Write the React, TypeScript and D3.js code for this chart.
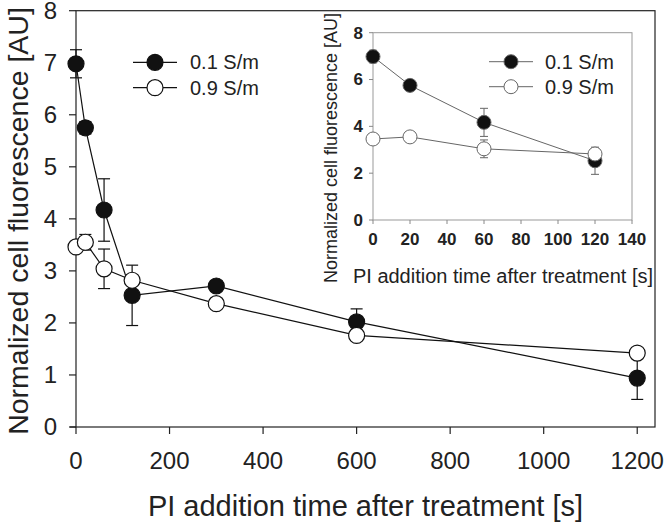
import React from "react";
import * as d3 from "d3";

const times = [0, 20, 60, 120, 300, 600, 1200];
const lowCond = [6.98, 5.75, 4.17, 2.53, 2.71, 2.02, 0.94];
const lowErr = [0.27, 0.12, 0.6, 0.58, 0.08, 0.25, 0.41];
const highCond = [3.46, 3.55, 3.04, 2.82, 2.37, 1.76, 1.42];
const highErr = [0.08, 0.15, 0.38, 0.1, 0.08, 0.06, 0.05];
const seriesNames = ["0.1 S/m", "0.9 S/m"];
const xTicksMain = [0, 200, 400, 600, 800, 1000, 1200];
const yTicksMain = [0, 1, 2, 3, 4, 5, 6, 7, 8];
const xTicksInset = [0, 20, 40, 60, 80, 100, 120, 140];
const yTicksInset = [0, 2, 4, 6, 8];
const insetMaxTime = 120;

const FONT = "'Liberation Sans', Arial, sans-serif";

type Pt = { t: number; v: number; e: number };

function makeSeries(vals: number[], errs: number[], maxT = Infinity): Pt[] {
  return times
    .map((t, i) => ({ t, v: vals[i], e: errs[i] }))
    .filter((p) => p.t <= maxT);
}

function Series({
  pts, x, y, filled, r, stroke, cap, lw,
}: {
  pts: Pt[]; x: d3.ScaleLinear<number, number>; y: d3.ScaleLinear<number, number>;
  filled: boolean; r: number; stroke: string; cap: number; lw: number;
}) {
  const line = d3.line<Pt>().x((d) => x(d.t)).y((d) => y(d.v));
  return (
    <g>
      <path d={line(pts) || ""} fill="none" stroke={stroke} strokeWidth={lw} />
      {pts.map((p, i) => (
        <g key={i} stroke={stroke} strokeWidth={lw}>
          <line x1={x(p.t)} x2={x(p.t)} y1={y(p.v + p.e)} y2={y(p.v - p.e)} />
          <line x1={x(p.t) - cap} x2={x(p.t) + cap} y1={y(p.v + p.e)} y2={y(p.v + p.e)} />
          <line x1={x(p.t) - cap} x2={x(p.t) + cap} y1={y(p.v - p.e)} y2={y(p.v - p.e)} />
        </g>
      ))}
      {pts.map((p, i) => (
        <circle key={"c" + i} cx={x(p.t)} cy={y(p.v)} r={r}
          fill={filled ? "#111" : "#fff"} stroke={stroke} strokeWidth={lw} />
      ))}
    </g>
  );
}

export default function App() {
  const W = 665, H = 522;
  const x = d3.scaleLinear().domain([0, 1238]).range([76, 655]);
  const y = d3.scaleLinear().domain([0, 8]).range([427, 10.7]);
  const xi = d3.scaleLinear().domain([0, 140]).range([373, 632]);
  const yi = d3.scaleLinear().domain([0, 8]).range([220, 32.7]);

  const mainLow = makeSeries(lowCond, lowErr);
  const mainHigh = makeSeries(highCond, highErr);
  const inLow = makeSeries(lowCond, lowErr, insetMaxTime);
  const inHigh = makeSeries(highCond, highErr, insetMaxTime);

  const gray = "#666";
  const frame = "#222";

  return (
    <svg width={W} height={H} style={{ position: "absolute", left: 0, top: 0, background: "#fff" }}
      fontFamily={FONT}>
      <rect x={0} y={0} width={W} height={H} fill="#fff" />
      {/* main frame */}
      <rect x={x(0)} y={y(8)} width={x.range()[1] - x(0)} height={y(0) - y(8)}
        fill="none" stroke={frame} strokeWidth={1.2} />
      <line x1={70} x2={x(0)} y1={y(0)} y2={y(0)} stroke={frame} strokeWidth={1.2} />
      {/* main ticks */}
      {xTicksMain.map((t) => (
        <g key={"xt" + t}>
          <line x1={x(t)} x2={x(t)} y1={y(0)} y2={y(0) + 7} stroke={frame} strokeWidth={1.2} />
          <text x={x(t)} y={469} fontSize={24} textAnchor="middle" fill="#222">{t}</text>
        </g>
      ))}
      {yTicksMain.map((t) => (
        <g key={"yt" + t}>
          <line x1={x(0) - 7} x2={x(0)} y1={y(t)} y2={y(t)} stroke={frame} strokeWidth={1.2} />
          <text x={57} y={y(t)} dy="0.35em" fontSize={24} textAnchor="end" fill="#222">{t}</text>
        </g>
      ))}
      <text x={(x(0) + 655) / 2} y={516} fontSize={29} textAnchor="middle" fill="#222">
        PI addition time after treatment [s]
      </text>
      <text transform={`translate(28,221) rotate(-90)`} fontSize={28.5}
        textAnchor="middle" fill="#222">
        Normalized cell fluorescence [AU]
      </text>

      {/* main data */}
      <Series pts={mainLow} x={x} y={y} filled={true} r={8} stroke="#111" cap={6} lw={1.2} />
      <Series pts={mainHigh} x={x} y={y} filled={false} r={8} stroke="#111" cap={6} lw={1.2} />

      {/* main legend */}
      {seriesNames.map((n, i) => {
        const ly = 62.3 + i * 25.4;
        return (
          <g key={"lg" + i}>
            <line x1={133} x2={177} y1={ly} y2={ly} stroke="#111" strokeWidth={1.2} />
            <circle cx={155} cy={ly} r={8} fill={i === 0 ? "#111" : "#fff"} stroke="#111" strokeWidth={1.2} />
            <text x={190} y={ly} dy="0.35em" fontSize={20} fill="#222">{n}</text>
          </g>
        );
      })}

      {/* inset */}
      <rect x={xi(0)} y={yi(8)} width={xi(140) - xi(0)} height={yi(0) - yi(8)}
        fill="none" stroke="#999" strokeWidth={1} />
      {xTicksInset.map((t) => (
        <g key={"ixt" + t}>
          <line x1={xi(t)} x2={xi(t)} y1={yi(0)} y2={yi(0) + 4} stroke="#888" strokeWidth={1} />
          <text x={xi(t)} y={245} fontSize={17} fontWeight="bold" textAnchor="middle" fill="#222">{t}</text>
        </g>
      ))}
      {yTicksInset.map((t) => (
        <g key={"iyt" + t}>
          <line x1={xi(0) - 4} x2={xi(0)} y1={yi(t)} y2={yi(t)} stroke="#888" strokeWidth={1} />
          <text x={363} y={yi(t)} dy="0.35em" fontSize={17} fontWeight="bold" textAnchor="end" fill="#222">{t}</text>
        </g>
      ))}
      <text x={503} y={283} fontSize={20} textAnchor="middle" fill="#222">
        PI addition time after treatment [s]
      </text>
      <text transform={`translate(337,148) rotate(-90)`} fontSize={18} textAnchor="middle" fill="#222">
        Normalized cell fluorescence [AU]
      </text>
      <Series pts={inLow} x={xi} y={yi} filled={true} r={7} stroke={gray} cap={4} lw={1} />
      <Series pts={inHigh} x={xi} y={yi} filled={false} r={7} stroke={gray} cap={4} lw={1} />
      {seriesNames.map((n, i) => {
        const ly = 61.7 + i * 25;
        return (
          <g key={"ilg" + i}>
            <line x1={489} x2={533} y1={ly} y2={ly} stroke={gray} strokeWidth={1} />
            <circle cx={511} cy={ly} r={7} fill={i === 0 ? "#111" : "#fff"} stroke={gray} strokeWidth={1} />
            <text x={545} y={ly} dy="0.35em" fontSize={20} fill="#222">{n}</text>
          </g>
        );
      })}
    </svg>
  );
}
